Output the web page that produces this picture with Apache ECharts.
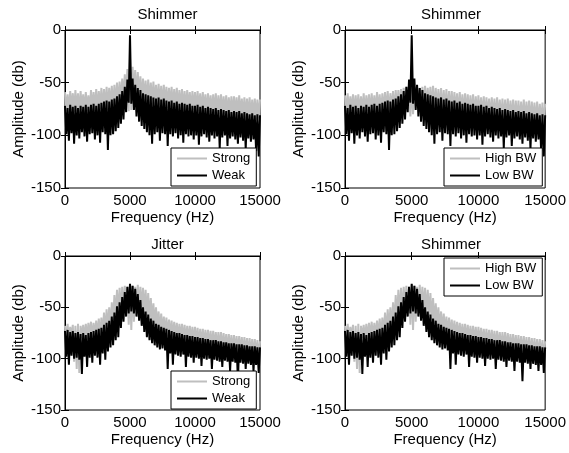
<!DOCTYPE html>
<html><head><meta charset="utf-8">
<script src="https://cdn.jsdelivr.net/npm/echarts@6/dist/echarts.min.js"></script>
<style>html,body{margin:0;padding:0;background:#fff}#c{width:569px;height:453px}</style>
</head><body><div id="c"></div><script>
// Spectrum samples, one value every STEP_HZ from 0 to 15000 Hz (dB)
const STEP_HZ = 100;
const xTickValues = [0, 5000, 10000, 15000];
const yTickValues = [0, -50, -100, -150];

// Shimmer: Strong (gray, top-left)
const shimStrong = [
 -59,-77,-61,-79,-58,-76,-60,-78,-57,-77,
 -60,-79,-58,-76,-61,-78,-59,-77,-62,-79,
 -57,-76,-59,-78,-56,-77,-58,-75,-55,-77,
 -56,-75,-54,-76,-55,-74,-53,-75,-52,-73,
 -50,-72,-49,-70,-46,-66,-42,-63,-37,-77,
 -27,-76,-35,-62,-38,-64,-40,-66,-44,-68,
 -46,-67,-48,-70,-47,-69,-50,-71,-49,-70,
 -52,-72,-51,-71,-53,-73,-52,-72,-54,-74,
 -55,-73,-54,-75,-56,-74,-55,-76,-57,-75,
 -56,-76,-58,-77,-57,-75,-59,-78,-58,-76,
 -59,-78,-58,-77,-60,-79,-59,-78,-61,-80,
 -60,-78,-62,-80,-61,-79,-60,-81,-62,-80,
 -61,-81,-63,-80,-62,-82,-64,-81,-63,-82,
 -63,-81,-64,-83,-62,-82,-65,-83,-64,-84,
 -65,-83,-64,-84,-66,-83,-65,-85,-66,-84,
 -66];
// Shimmer: Weak / Low BW (black, top row)
const shimWeak = [
 -72,-99,-74,-105,-71,-98,-73,-108,-72,-100,
 -74,-103,-72,-97,-73,-101,-71,-106,-73,-99,
 -71,-98,-70,-104,-72,-100,-70,-107,-69,-97,
 -68,-99,-67,-114,-68,-100,-66,-99,-65,-96,
 -63,-93,-61,-89,-58,-85,-54,-78,-47,-69,
 -5,-70,-46,-76,-52,-82,-55,-87,-57,-91,
 -60,-94,-61,-97,-62,-100,-63,-108,-64,-99,
 -65,-97,-64,-105,-66,-98,-65,-99,-67,-110,
 -68,-99,-67,-101,-69,-98,-68,-103,-70,-100,
 -69,-107,-70,-99,-71,-101,-70,-100,-72,-104,
 -72,-100,-71,-109,-73,-101,-72,-99,-74,-102,
 -73,-106,-74,-100,-75,-103,-74,-101,-76,-112,
 -75,-102,-76,-100,-77,-110,-76,-103,-78,-101,
 -77,-104,-78,-108,-77,-102,-79,-105,-78,-113,
 -79,-103,-80,-106,-79,-104,-81,-115,-80,-120,
 -81];
// Shimmer: High BW (gray, top-right)
const shimHighBW = [
 -62,-78,-60,-79,-63,-77,-61,-80,-62,-78,
 -61,-79,-63,-78,-60,-80,-62,-77,-61,-79,
 -60,-78,-62,-79,-59,-77,-61,-80,-60,-78,
 -59,-77,-58,-79,-60,-76,-58,-78,-57,-75,
 -57,-74,-56,-76,-55,-73,-54,-72,-55,-82,
 -52,-80,-54,-70,-53,-72,-55,-74,-54,-75,
 -53,-74,-55,-76,-54,-75,-53,-77,-55,-76,
 -56,-77,-55,-78,-57,-77,-56,-79,-58,-78,
 -58,-79,-59,-78,-60,-80,-59,-79,-61,-81,
 -60,-80,-61,-82,-62,-81,-61,-83,-63,-82,
 -62,-82,-64,-83,-63,-84,-64,-83,-65,-85,
 -64,-84,-65,-86,-64,-85,-66,-86,-65,-87,
 -66,-86,-65,-87,-67,-86,-66,-88,-67,-87,
 -67,-88,-68,-87,-66,-89,-68,-88,-67,-89,
 -68,-88,-69,-90,-68,-89,-70,-90,-69,-91,
 -70];
// Jitter / Shimmer bottom row: Strong / High BW (gray)
const jitStrong = [
 -68,-80,-66,-82,-69,-79,-67,-103,-68,-110,
 -66,-114,-68,-80,-67,-82,-66,-81,-65,-79,
 -64,-81,-65,-80,-63,-79,-61,-80,-60,-78,
 -55,-76,-52,-74,-50,-72,-45,-66,-38,-62,
 -33,-58,-31,-56,-30,-52,-29,-50,-30,-67,
 -28,-72,-29,-64,-30,-52,-28,-50,-30,-52,
 -31,-56,-33,-58,-36,-62,-41,-66,-46,-68,
 -50,-72,-54,-74,-56,-75,-59,-77,-60,-78,
 -62,-79,-63,-80,-64,-81,-65,-82,-66,-82,
 -66,-83,-67,-84,-68,-84,-68,-85,-69,-86,
 -69,-86,-70,-87,-71,-87,-71,-88,-72,-88,
 -72,-89,-73,-90,-73,-90,-74,-91,-74,-91,
 -74,-92,-75,-92,-76,-93,-76,-93,-77,-94,
 -77,-94,-78,-95,-78,-95,-79,-96,-79,-96,
 -80,-97,-80,-97,-81,-98,-81,-98,-82,-99,
 -83];
// Jitter / Shimmer bottom row: Weak / Low BW (black)
const jitWeak = [
 -73,-98,-72,-106,-74,-97,-73,-100,-75,-99,
 -74,-101,-76,-115,-75,-98,-77,-108,-75,-99,
 -74,-104,-73,-97,-72,-99,-71,-106,-70,-95,
 -67,-101,-65,-93,-63,-89,-59,-87,-55,-82,
 -49,-79,-45,-70,-40,-64,-35,-59,-30,-56,
 -27,-54,-29,-56,-32,-59,-37,-63,-43,-68,
 -50,-74,-54,-79,-57,-82,-61,-85,-63,-87,
 -66,-89,-67,-91,-69,-90,-70,-92,-71,-110,
 -72,-95,-73,-106,-74,-96,-75,-97,-75,-98,
 -76,-96,-77,-108,-77,-98,-78,-99,-78,-104,
 -79,-99,-79,-100,-80,-107,-80,-100,-81,-101,
 -81,-100,-82,-110,-82,-101,-82,-102,-83,-103,
 -83,-108,-84,-102,-84,-103,-85,-112,-85,-103,
 -85,-104,-86,-122,-86,-104,-86,-105,-87,-110,
 -87,-105,-88,-106,-88,-112,-88,-106,-89,-114,
 -89];

const titles = ['Shimmer', 'Shimmer', 'Jitter', 'Shimmer'];
const grayNames = ['Strong', 'High BW', 'Strong', 'High BW'];
const blackNames = ['Weak', 'Low BW', 'Weak', 'Low BW'];
const grayData = [shimStrong, shimHighBW, jitStrong, jitStrong];
const blackData = [shimWeak, shimWeak, jitWeak, jitWeak];

const freqs = shimStrong.map((_, i) => i * STEP_HZ);
const toPairs = vals => vals.map((v, i) => [freqs[i], v]);

const FONT = "'Liberation Sans', Arial, Helvetica, sans-serif";
const GRAY = '#bfbfbf';
const grids = [
  {left: 65, top: 30, width: 195, height: 158},
  {left: 345, top: 30, width: 202, height: 158},
  {left: 65, top: 256, width: 195, height: 154},
  {left: 345, top: 256, width: 202, height: 154}
];
const legendPos = [
  {left: 171, top: 148}, {left: 444, top: 148},
  {left: 171, top: 371}, {left: 444, top: 258}
];
const titleTop = [2, 2, 232, 232];

const xAxes = [], yAxes = [], series = [], titleOpts = [], legends = [];
grids.forEach((g, p) => {
  const common = {
    type: 'value', gridIndex: p,
    axisLine: {show: true, lineStyle: {color: '#000', width: 1}},
    axisTick: {show: true, inside: true, length: 4, lineStyle: {color: '#000'}},
    splitLine: {show: false}
  };
  xAxes.push(Object.assign({}, common, {
    position: 'bottom', min: xTickValues[0], max: xTickValues[xTickValues.length - 1], interval: 5000,
    axisLabel: {color: '#000', fontSize: 15, fontFamily: FONT, margin: 5, formatter: v => String(v)},
    name: 'Frequency (Hz)', nameLocation: 'middle', nameGap: 22,
    nameTextStyle: {color: '#000', fontSize: 15, fontFamily: FONT}
  }));
  xAxes.push(Object.assign({}, common, {
    position: 'top', min: xTickValues[0], max: xTickValues[xTickValues.length - 1], interval: 5000,
    axisLabel: {show: false}
  }));
  yAxes.push(Object.assign({}, common, {
    position: 'left', min: yTickValues[yTickValues.length - 1], max: yTickValues[0], interval: 50,
    axisLabel: {color: '#000', fontSize: 15, fontFamily: FONT, margin: 4, formatter: v => String(v)},
    name: 'Amplitude (db)', nameLocation: 'middle', nameGap: 39,
    nameTextStyle: {color: '#000', fontSize: 15, fontFamily: FONT}
  }));
  yAxes.push(Object.assign({}, common, {
    position: 'right', min: yTickValues[yTickValues.length - 1], max: yTickValues[0], interval: 50,
    axisLabel: {show: false}
  }));
  series.push({
    type: 'line', name: grayNames[p], xAxisIndex: 2 * p, yAxisIndex: 2 * p,
    data: toPairs(grayData[p]), symbol: 'none', showSymbol: false,
    lineStyle: {color: GRAY, width: 2}, itemStyle: {color: GRAY}, silent: true
  });
  series.push({
    type: 'line', name: blackNames[p], xAxisIndex: 2 * p, yAxisIndex: 2 * p,
    data: toPairs(blackData[p]), symbol: 'none', showSymbol: false,
    lineStyle: {color: '#000', width: 2}, itemStyle: {color: '#000'}, silent: true
  });
  titleOpts.push({
    text: titles[p], left: g.left + g.width / 2, top: titleTop[p], textAlign: 'center',
    textStyle: {color: '#000', fontSize: 15, fontWeight: 'normal', fontFamily: FONT}
  });
  legends.push({
    left: legendPos[p].left, top: legendPos[p].top, orient: 'vertical',
    data: [grayNames[p], blackNames[p]], selectedMode: false,
    icon: 'rect', itemWidth: 30, itemHeight: 2, itemGap: 4,
    backgroundColor: '#fff', borderColor: '#000', borderWidth: 1, borderRadius: 0,
    padding: [4, 6, 4, 6],
    textStyle: {color: '#000', fontSize: 13, fontFamily: FONT}
  });
});

const chart = echarts.init(document.getElementById('c'), null, {renderer: 'canvas'});
chart.setOption({
  animation: false,
  backgroundColor: '#fff',
  title: titleOpts,
  legend: legends,
  grid: grids.map(g => Object.assign({show: true, borderColor: '#000', borderWidth: 1, backgroundColor: 'transparent'}, g)),
  xAxis: xAxes,
  yAxis: yAxes,
  series: series
});
</script></body></html>
